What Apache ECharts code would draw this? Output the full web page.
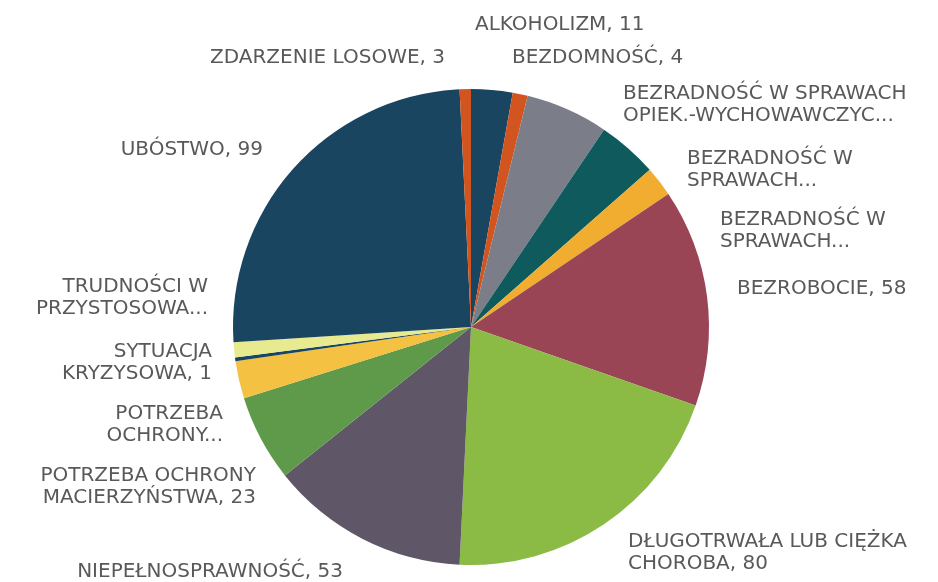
<!DOCTYPE html>
<html>
<head>
<meta charset="utf-8">
<script src="https://cdn.jsdelivr.net/npm/echarts@6/dist/echarts.min.js"></script>
<style>
  html, body { margin: 0; padding: 0; background: #fff; }
  #main { width: 938px; height: 582px; }
</style>
</head>
<body>
<div id="main"></div>
<script>
// kategorie (tekst etykiety tak jak na wykresie)
const categories = [
    'ALKOHOLIZM',
    'BEZDOMNOŚĆ',
    'BEZRADNOŚĆ W SPRAWACH\nOPIEK.-WYCHOWAWCZYC...',
    'BEZRADNOŚĆ W\nSPRAWACH...',
    'BEZRADNOŚĆ W\nSPRAWACH...',
    'BEZROBOCIE',
    'DŁUGOTRWAŁA LUB CIĘŻKA\nCHOROBA',
    'NIEPEŁNOSPRAWNOŚĆ',
    'POTRZEBA OCHRONY\nMACIERZYŃSTWA',
    'POTRZEBA\nOCHRONY...',
    'SYTUACJA\nKRYZYSOWA',
    'TRUDNOŚCI W\nPRZYSTOSOWA...',
    'UBÓSTWO',
    'ZDARZENIE LOSOWE'
];
const values = [11, 4, 22, 16, 8, 58, 80, 53, 23, 10, 1, 4, 99, 3];
// czy pokazać wartość w etykiecie (obcięte etykiety jej nie mają)
const showValue = [true, true, false, false, false, true, true, true, true, false, true, false, true, true];
const colors = [
    '#1a4560', '#d2541f', '#7b7e88', '#0e5a5d', '#f0ad2f', '#9a4555', '#8cbb45',
    '#5f5767', '#5f9a4b', '#f4c143', '#1a4560', '#e8ea90', '#1a4560', '#d2541f'
];

// położenie etykiet jak w Excelu: [x, y, wyrównanie]
const labelAnchor = [
    [475, 25, 'left'], [512, 58, 'left'], [623, 105, 'left'], [687, 170, 'left'],
    [720, 231, 'left'], [737, 289, 'left'], [628, 553, 'left'], [343, 572, 'right'],
    [256, 487, 'right'], [223, 425, 'right'], [212, 363, 'right'], [208, 298, 'right'],
    [263, 150, 'right'], [445, 58, 'right']
];

const chart = echarts.init(document.getElementById('main'));
const option = {
    backgroundColor: '#fff',
    animation: false,
    series: [
        {
            type: 'pie',
            center: [471, 327],
            radius: 238,
            startAngle: 90,
            clockwise: true,
            avoidLabelOverlap: false,
            data: categories.map((name, i) => ({
                name: name,
                value: values[i],
                itemStyle: { color: colors[i] }
            })),
            label: {
                show: true,
                position: 'outside',
                color: '#595959',
                fontFamily: 'DejaVu Sans',
                fontSize: 20,
                lineHeight: 22,
                overflow: 'none',
                formatter: (p) => showValue[p.dataIndex] ? p.name + ', ' + p.value : p.name
            },
            labelLine: { show: false },
            labelLayout: (p) => {
                const a = labelAnchor[p.dataIndex];
                return { x: a[0], y: a[1], align: a[2], verticalAlign: 'middle' };
            }
        }
    ]
};
chart.setOption(option);
</script>
</body>
</html>
